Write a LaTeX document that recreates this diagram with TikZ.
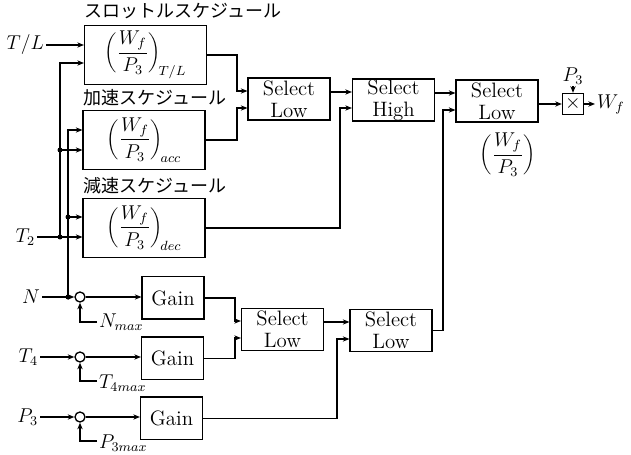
\documentclass[tikz,border=0pt]{standalone}
\usepackage{fontspec}
\newfontfamily\cjk{Noto Sans CJK JP}
\usetikzlibrary{arrows.meta}
\newcommand{\WP}[1]{$\displaystyle\left(\frac{W_f}{P_3}\right)_{\!#1}$}
\begin{document}
\begin{tikzpicture}[x=0.6pt,y=-0.6pt,
  every node/.style={font=\fontsize{12}{14}\selectfont},
  blk/.style={draw,line width=0.9pt,inner sep=0pt,align=center},
  sched/.style={blk,minimum width=73pt,minimum height=35.5pt},
  sel/.style={blk,minimum width=49pt,minimum height=25pt,font=\fontsize{12.5}{13}\selectfont},
  gainbox/.style={blk,minimum width=37pt,minimum height=25.5pt,font=\fontsize{12.5}{14}\selectfont},
  sumc/.style={draw,circle,line width=0.8pt,minimum size=6pt,inner sep=0pt},
  ttl/.style={font=\cjk\fontsize{10.8}{12}\selectfont,inner sep=0pt},
  lbl/.style={inner sep=1pt},
  arr/.style={line width=0.8pt,-{Stealth[length=4pt,width=3.2pt]}},
  ln/.style={line width=0.8pt},
  dot/.style={fill,circle,inner sep=0pt,minimum size=3pt}]
\useasboundingbox (0,0) rectangle (631,455);

% schedule boxes
\node[sched] (tl) at (145.5,55) {\WP{T/L}};
\node[sched] (acc) at (144,140) {\WP{acc}};
\node[sched] (dec) at (144,228) {\WP{dec}};
\node[ttl] (ttl1) at (183,11) {スロットルスケジュール};
\node[ttl] (ttl2) at (155,98) {加速スケジュール};
\node[ttl] (ttl3) at (155,185.5) {減速スケジュール};

% selectors
\node[sel] (sl1) at (289,99) {Select\\Low};
\node[sel] (sh) at (393.5,100) {Select\\High};
\node[sel] (sl3) at (497,101) {Select\\Low};
\node[sel] (slA) at (282.5,329.5) {Select\\Low};
\node[sel] (slB) at (391,330.5) {Select\\Low};

% multiplier
\node[blk,minimum size=12.5pt] (mul) at (573,104) {$\times$};
\node[lbl] (lP3top) at (573,76) {$P_3$};
\node[lbl,anchor=west] (lWf) at (595,104) {$W_f$};
\node[inner sep=0pt] (lWP) at (508,155) {$\displaystyle\left(\frac{W_f}{P_3}\right)$};

% gains and summing points
\node[gainbox] (gN) at (173,298) {Gain};
\node[gainbox] (gT) at (172.5,358.5) {Gain};
\node[gainbox] (gP) at (171.5,418.5) {Gain};
\node[sumc] (cN) at (80,297) {};
\node[sumc] (cT) at (80,357) {};
\node[sumc] (cP) at (80,417) {};

% input labels
\node[lbl,anchor=east] (lTL) at (46,45) {$T/L$};
\node[lbl,anchor=east] (lT2) at (37,237) {$T_2$};
\node[lbl,anchor=east] (lN) at (42,297) {$N$};
\node[lbl,anchor=east] (lT4) at (40,357) {$T_4$};
\node[lbl,anchor=east] (lP3) at (40,417) {$P_3$};
\node[lbl,anchor=west] (lNmax) at (97,322) {$N_{max}$};
\node[lbl,anchor=west] (lT4max) at (97,383) {$T_{4max}$};
\node[lbl,anchor=west] (lP3max) at (97,443) {$P_{3max}$};

% junctions
\coordinate (j1) at (60,237);
\coordinate (j2) at (60,150);
\coordinate (j3) at (68,297);
\coordinate (j4) at (68,217);
\node[dot] at (j1) {};
\node[dot] at (j2) {};
\node[dot] at (j3) {};
\node[dot] at (j4) {};

% left wiring
\draw[arr] (lTL.east) -- (tl.west |- lTL.east);
\draw[arr] (lT2.east) -- (dec.west |- lT2.east);
\draw[arr] (j1) |- (tl.west |- 0,63);
\draw[arr] (j2) -- (acc.west |- j2);
\draw[arr] (lN.east) -- (cN.west);
\draw[arr] (j3) |- (acc.west |- 0,130);
\draw[arr] (j4) -- (dec.west |- j4);
\draw[arr] (lT4.east) -- (cT.west);
\draw[arr] (lP3.east) -- (cP.west);

% feedback limits
\draw[arr] (lNmax.west) -| (cN.south);
\draw[arr] (lT4max.west |- 0,381) -| (cT.south);
\draw[arr] (lP3max.west |- 0,441) -| (cP.south);

% summing to gains
\draw[arr] (cN.east) -- (gN.west |- cN.east);
\draw[arr] (cT.east) -- (gT.west |- cT.east);
\draw[arr] (cP.east) -- (gP.west |- cP.east);

% schedules to selectors
\draw[arr] (tl.east) -| (237,91) -- (sl1.west |- 0,91);
\draw[arr] (acc.east) -| (237,108) -- (sl1.west |- 0,108);
\draw[arr] (sl1.east |- 0,92) -- (sh.west |- 0,92);
\draw[arr] (dec.east) -| (340,108) -- (sh.west |- 0,108);
\draw[arr] (sh.east |- 0,93) -- (sl3.west |- 0,93);
\draw[arr] (sl3.east |- mul.west) -- (mul.west);
\draw[arr] (lP3top.south) -- (mul.north);
\draw[arr] (mul.east) -- (lWf.west);

% lower selectors
\draw[arr] (gN.east) -| (235,321) -- (slA.west |- 0,321);
\draw[arr] (gT.east) -| (235,338) -- (slA.west |- 0,338);
\draw[arr] (slA.east |- 0,322) -- (slB.west |- 0,322);
\draw[arr] (gP.east) -| (337,339) -- (slB.west |- 0,339);
\draw[arr] (slB.east) -| (443,110) -- (sl3.west |- 0,110);
\end{tikzpicture}
\end{document}
